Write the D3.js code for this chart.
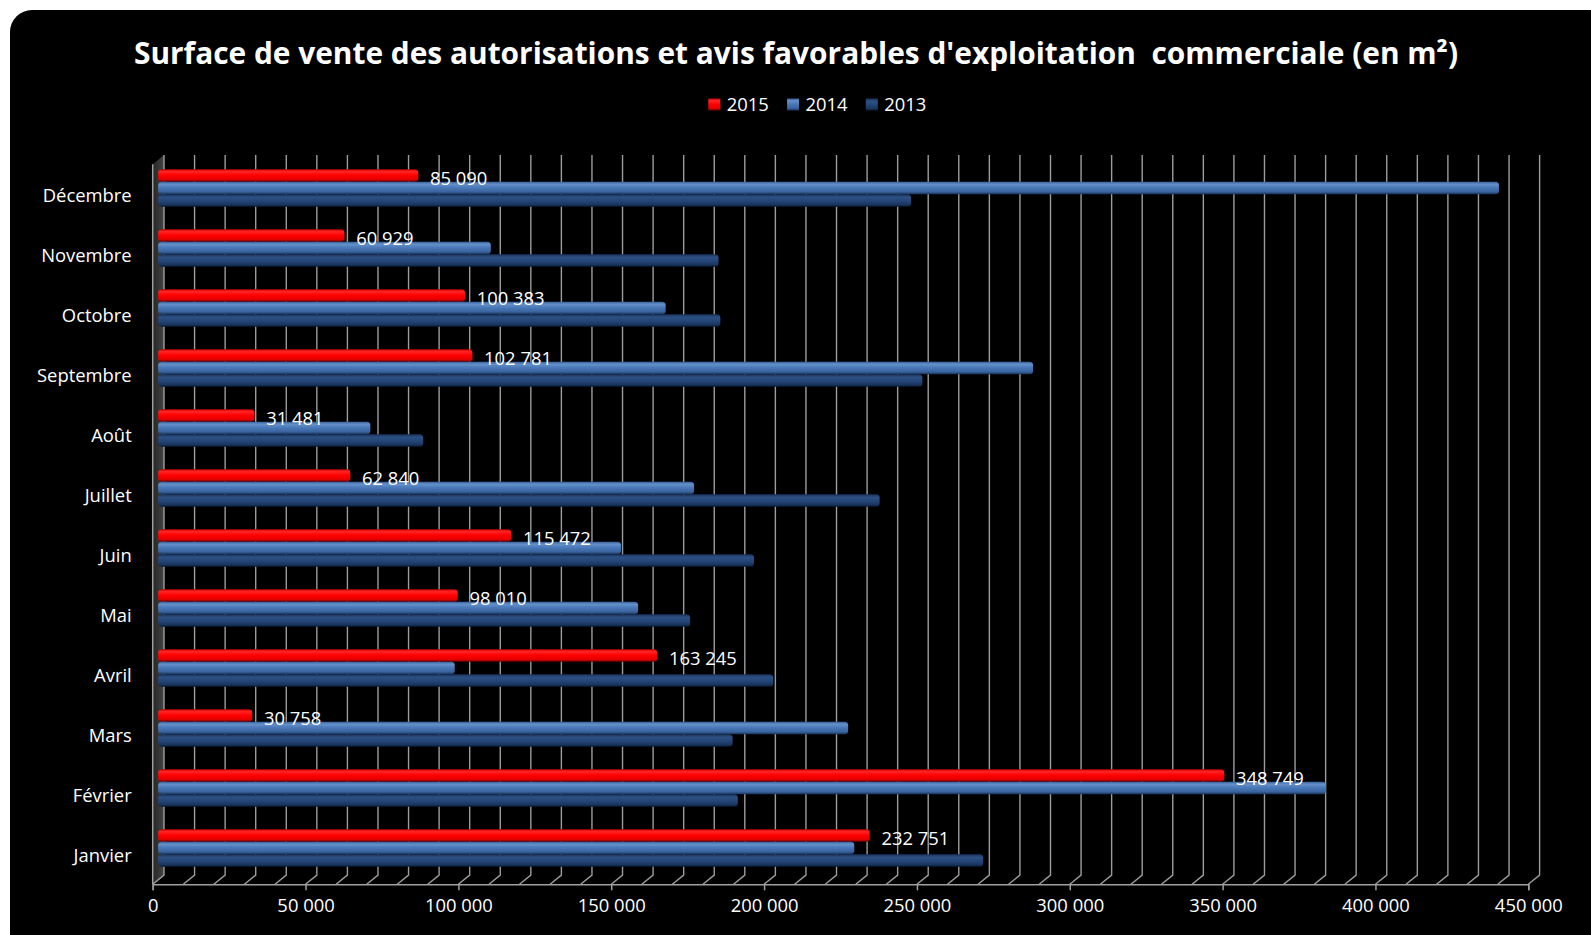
<!DOCTYPE html>
<html>
<head>
<meta charset="utf-8">
<script src="https://cdn.jsdelivr.net/npm/d3@7"></script>
<style>
  html, body { margin: 0; padding: 0; background: #ffffff; }
  svg { display: block; }
  text { font-family: "Open Sans", "Noto Sans", sans-serif; fill: #ffffff; }
</style>
</head>
<body>
<svg id="chart" width="1591" height="935"></svg>
<script>
// ---------------- data ----------------
const title = "Surface de vente des autorisations et avis favorables d'exploitation  commerciale (en m²)";
const months = ["Janvier", "Février", "Mars", "Avril", "Mai", "Juin", "Juillet", "Août", "Septembre", "Octobre", "Novembre", "Décembre"];
const seriesNames = ["2015", "2014", "2013"];
const values2015 = [232751, 348749, 30758, 163245, 98010, 115472, 62840, 31481, 102781, 100383, 60929, 85090];
const values2014 = [227700, 382000, 225700, 97000, 157000, 151400, 175300, 69400, 286200, 166000, 108800, 438600];
const values2013 = [269900, 189600, 187900, 201200, 174000, 194900, 236000, 86700, 250000, 183900, 183300, 246300];
const tickValues = [0, 50000, 100000, 150000, 200000, 250000, 300000, 350000, 400000, 450000];
const gridStep = 10000;
const axisMax = 450000;

// ---------------- layout ----------------
const svg = d3.select("#chart");
const W = 1591, H = 935;
const front = { left: 152.7, right: 1528.3, top: 164.3, bottom: 884.3 };
const depth = { dx: 11.3, dy: -9.2 };      // back wall offset
const barShift = { dx: 5.5, dy: -4.7 };    // bars sit mid-depth

const x = d3.scaleLinear().domain([0, axisMax]).range([front.left, front.right]);
const y = d3.scaleBand().domain(months.slice().reverse()).range([front.top, front.bottom]);
const sub = d3.scaleBand().domain(seriesNames).range([9.7, 47.1]);

const fmt = v => d3.format(",")(v).replace(/,/g, " ");

// background panel
svg.append("rect").attr("x", 10).attr("y", 10).attr("width", W + 30).attr("height", H + 30)
  .attr("rx", 22).attr("fill", "#000000");

// gradients
const defs = svg.append("defs");
const gradStops = {
  "2015": [[0, "#c40000"], [0.18, "#ff2424"], [0.5, "#ff0000"], [0.82, "#e20000"], [1, "#6a0000"]],
  "2014": [[0, "#36609a"], [0.2, "#6690c8"], [0.45, "#4b7aba"], [0.8, "#39649e"], [1, "#1a345c"]],
  "2013": [[0, "#19325a"], [0.25, "#2d5083"], [0.55, "#234577"], [0.85, "#19345c"], [1, "#0a1831"]]
};
seriesNames.forEach(s => {
  const g = defs.append("linearGradient").attr("id", "g" + s)
    .attr("x1", 0).attr("y1", 0).attr("x2", 0).attr("y2", 1);
  gradStops[s].forEach(([o, c]) => g.append("stop").attr("offset", o).attr("stop-color", c));
});
const wallGrad = defs.append("linearGradient").attr("id", "wall").attr("x1", 0).attr("y1", 0).attr("x2", 1).attr("y2", 0);
wallGrad.append("stop").attr("offset", 0).attr("stop-color", "#262626");
wallGrad.append("stop").attr("offset", 1).attr("stop-color", "#444444");

// title
const titleText = svg.append("text")
  .attr("x", 796).attr("y", 64)
  .attr("text-anchor", "middle")
  .style("white-space", "pre")
  .style("font-weight", "bold")
  .style("font-size", "28px")
  .text(title);
const tw = titleText.node().getComputedTextLength();
titleText.style("font-size", (28 * 1324 / tw).toFixed(2) + "px");

// legend
const legend = svg.append("g").attr("class", "legend");
let lx = 708.3;
seriesNames.forEach(s => {
  legend.append("rect").attr("x", lx).attr("y", 98.5).attr("width", 12).attr("height", 12)
    .attr("fill", "url(#g" + s + ")");
  const t = legend.append("text").attr("x", lx + 18.4).attr("y", 111)
    .style("font-size", "18.4px").text(s);
  lx += 18.4 + t.node().getComputedTextLength() + 18.3;
});

// left wall
const x0 = x(0);
svg.append("path")
  .attr("d", `M${x0},${front.top} L${x0 + depth.dx},${front.top + depth.dy} L${x0 + depth.dx},${front.bottom + depth.dy} L${x0},${front.bottom} Z`)
  .attr("fill", "url(#wall)");

// gridlines on back wall + floor diagonals
const gridVals = d3.range(0, axisMax + 1, gridStep);
svg.append("g").selectAll("path").data(gridVals).join("path")
  .attr("d", v => `M${x(v) + depth.dx},${front.top + depth.dy} L${x(v) + depth.dx},${front.bottom + depth.dy} L${x(v)},${front.bottom}`)
  .attr("fill", "none").attr("stroke", "#9c9c9c").attr("stroke-width", 1.4);

// front left edge of wall
svg.append("line").attr("x1", x0).attr("x2", x0).attr("y1", front.top).attr("y2", front.bottom)
  .attr("stroke", "#a0a0a0").attr("stroke-width", 1.5);

// x axis
const xAxis = d3.axisBottom(x).tickValues(tickValues).tickSize(6).tickPadding(9)
  .tickFormat(fmt);
const ax = svg.append("g").attr("transform", `translate(0,${front.bottom})`).call(xAxis);
ax.select(".domain").attr("stroke", "#a0a0a0").attr("stroke-width", 1.5);
ax.selectAll(".tick line").attr("stroke", "#a0a0a0").attr("stroke-width", 1.5);
ax.selectAll(".tick text").attr("fill", "#ffffff").style("font-size", "18.4px")
  .style("font-family", "'Open Sans', sans-serif");

// y axis labels
const yAxis = d3.axisLeft(y).tickSize(0).tickPadding(21);
const ay = svg.append("g").attr("transform", `translate(${front.left},0)`).call(yAxis);
ay.select(".domain").remove();
ay.selectAll(".tick text").attr("fill", "#ffffff").style("font-size", "18.4px")
  .style("font-family", "'Open Sans', sans-serif").attr("dy", "7.4").attr("y", 0)
  .attr("dominant-baseline", "alphabetic");

// bars
const seriesData = { "2015": values2015, "2014": values2014, "2013": values2013 };
const barsG = svg.append("g");
seriesNames.forEach(s => {
  barsG.append("g").selectAll("rect").data(months.map((m, i) => ({ m, v: seriesData[s][i] }))).join("rect")
    .attr("x", x0 + barShift.dx)
    .attr("y", d => y(d.m) + barShift.dy + sub(s))
    .attr("width", d => x(d.v) - x0)
    .attr("height", sub.bandwidth())
    .attr("rx", 3.5).attr("ry", 3.5)
    .attr("fill", "url(#g" + s + ")");
});

// data labels for 2015
svg.append("g").selectAll("text").data(months.map((m, i) => ({ m, v: values2015[i] }))).join("text")
  .attr("x", d => x(d.v) + barShift.dx + 11.7)
  .attr("y", d => y(d.m) + barShift.dy + sub("2015") + 15.7)
  .style("font-size", "18.4px")
  .text(d => fmt(d.v));
</script>
</body>
</html>
